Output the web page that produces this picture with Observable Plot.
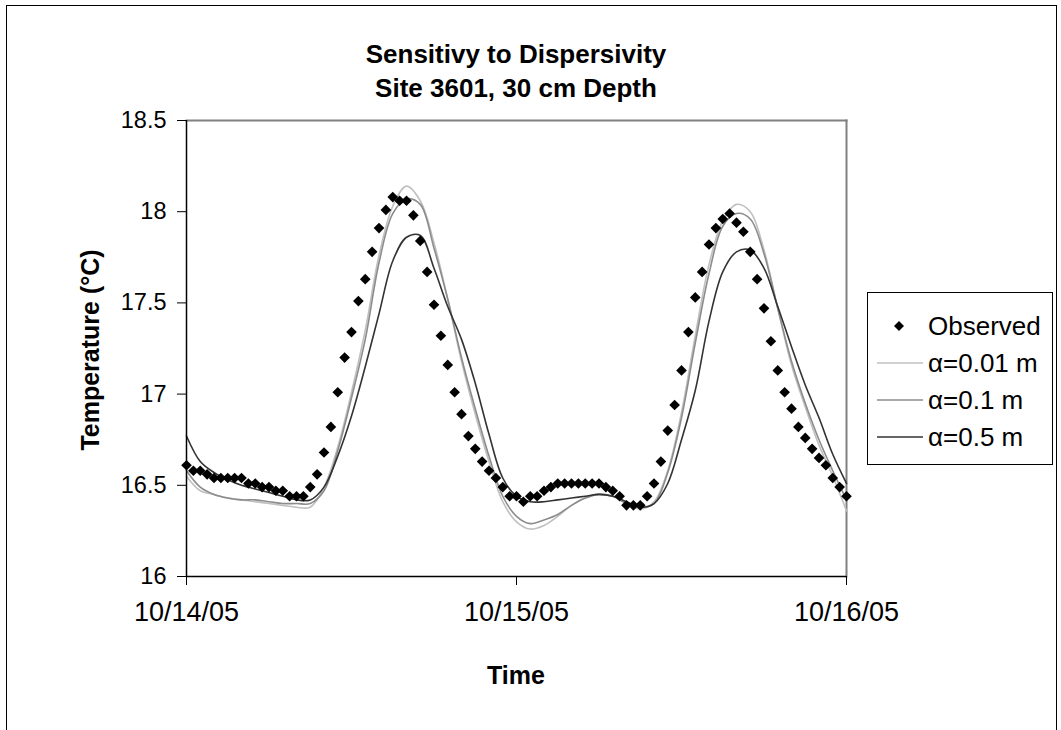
<!DOCTYPE html>
<html><head><meta charset="utf-8">
<script src="https://cdn.jsdelivr.net/npm/d3@7"></script>
<script src="https://cdn.jsdelivr.net/npm/@observablehq/plot@0.6"></script>
<style>
html,body{margin:0;padding:0;background:#fff;overflow:hidden;}
#wrap{position:relative;width:1061px;height:730px;font-family:"Liberation Sans",Arial,sans-serif;color:#000;}
#border{position:absolute;left:6px;top:5px;width:1051px;height:780px;border:1.5px solid #000;box-sizing:border-box;}
#title{position:absolute;left:116px;width:800px;top:37px;text-align:center;font-weight:bold;font-size:26px;line-height:34px;}
#ytitle{position:absolute;left:90px;top:350px;transform:translate(-50%,-50%) rotate(-90deg);font-weight:bold;font-size:25px;white-space:nowrap;}
#xtitle{position:absolute;left:516px;top:675px;transform:translate(-50%,-50%);font-weight:bold;font-size:25px;}
#chart{position:absolute;left:0;top:100px;}
#legend{position:absolute;left:867px;top:292px;width:186px;height:173px;border:1px solid #000;box-sizing:border-box;background:#fff;}
.entry{position:absolute;left:0;height:30px;width:185px;font-size:26px;}
.entry svg{position:absolute;left:8px;top:0;}
.entry span{position:absolute;left:60px;top:50%;transform:translateY(-50%);white-space:nowrap;}
</style>
</head><body>
<div id="wrap">
  <div id="border"></div>
  <div id="title">Sensitivy to Dispersivity<br>Site 3601, 30 cm Depth</div>
  <div id="chart"></div>
  <div id="ytitle">Temperature (°C)</div>
  <div id="xtitle">Time</div>
  <div id="legend"></div>
</div>
<script>
// ---- data ----
const startTime = "2005-10-14T00:00Z";
const xTickLabels = ["2005-10-14T00:00Z", "2005-10-15T00:00Z", "2005-10-16T00:00Z"];
const yTicks = [16, 16.5, 17, 17.5, 18, 18.5];
const seriesNames = ["Observed", "α=0.01 m", "α=0.1 m", "α=0.5 m"];
// observed every 30 minutes
const observed = [
16.61,16.58,16.58,16.56,16.54,16.54,16.54,16.54,16.54,16.51,16.51,16.49,16.49,16.47,16.47,16.44,16.44,16.44,16.49,16.56,
16.68,16.82,17.01,17.20,17.34,17.51,17.63,17.78,17.91,18.01,18.08,18.06,18.06,17.98,17.84,17.67,17.49,17.32,17.16,17.01,
16.89,16.77,16.70,16.63,16.58,16.54,16.49,16.44,16.44,16.41,16.44,16.44,16.47,16.49,16.51,16.51,16.51,16.51,16.51,16.51,
16.51,16.49,16.47,16.44,16.39,16.39,16.39,16.44,16.51,16.63,16.80,16.94,17.13,17.34,17.53,17.67,17.82,17.91,17.96,17.99,
17.94,17.89,17.78,17.63,17.47,17.29,17.13,17.01,16.92,16.82,16.76,16.70,16.65,16.61,16.54,16.49,16.44];
// simulated, hourly
const alpha001 = [
16.55,16.47,16.45,16.43,16.42,16.41,16.40,16.39,16.38,16.38,16.49,16.71,17.01,17.35,17.76,18.03,18.14,18.06,17.83,17.52,
17.18,16.89,16.63,16.41,16.30,16.26,16.28,16.33,16.39,16.43,16.45,16.44,16.40,16.37,16.41,16.58,16.90,17.32,17.71,17.95,
18.04,18.00,17.79,17.47,17.16,16.93,16.72,16.55,16.36];
const alpha01 = [
16.58,16.49,16.45,16.43,16.42,16.42,16.41,16.40,16.40,16.40,16.47,16.69,16.98,17.30,17.72,17.99,18.07,18.04,17.80,17.52,
17.20,16.92,16.66,16.44,16.33,16.29,16.31,16.34,16.39,16.43,16.45,16.44,16.40,16.38,16.40,16.57,16.87,17.28,17.66,17.92,
17.99,17.96,17.77,17.47,17.18,16.95,16.75,16.58,16.42];
const alpha05 = [
16.77,16.63,16.57,16.53,16.50,16.48,16.46,16.44,16.42,16.42,16.49,16.66,16.88,17.15,17.44,17.73,17.86,17.87,17.69,17.48,
17.30,17.06,16.78,16.54,16.44,16.41,16.41,16.42,16.43,16.44,16.45,16.44,16.41,16.38,16.40,16.51,16.75,17.02,17.40,17.67,
17.78,17.79,17.69,17.48,17.26,17.05,16.87,16.67,16.51];
const colors = {"α=0.01 m": "#c0c0c0", "α=0.1 m": "#8c8c8c", "α=0.5 m": "#333333"};

// ---- build tables ----
const t0 = new Date(startTime);
const obsData = observed.map((v, i) => ({t: d3.utcMinute.offset(t0, 30 * i), v}));
const simData = [];
[[seriesNames[1], alpha001], [seriesNames[2], alpha01], [seriesNames[3], alpha05]].forEach(([name, arr]) => {
  arr.forEach((v, i) => simData.push({t: d3.utcHour.offset(t0, i), v, name}));
});
const xDomain = [new Date(xTickLabels[0]), new Date(xTickLabels[2])];

const chart = Plot.plot({
  width: 1061,
  height: 600,
  marginTop: 20,
  marginLeft: 186,
  marginRight: 215,
  marginBottom: 124,
  style: {fontFamily: '"Liberation Sans", Arial, sans-serif', background: "transparent", color: "#000"},
  x: {type: "utc", domain: xDomain},
  y: {domain: [16, 18.5]},
  marks: [
    Plot.frame({anchor: "top", stroke: "#808080", strokeWidth: 2}),
    Plot.frame({anchor: "right", stroke: "#808080", strokeWidth: 2}),
    Plot.line(simData, {x: "t", y: "v", z: "name", stroke: d => colors[d.name], strokeWidth: 1.6, curve: "catmull-rom"}),
    Plot.dot(obsData, {x: "t", y: "v", symbol: "diamond2", r: 4.8, fill: "#000", stroke: "none"}),
    Plot.ruleY([16], {stroke: "#000", strokeWidth: 1.5}),
    Plot.ruleX([xDomain[0]], {stroke: "#000", strokeWidth: 1.5}),
    Plot.axisX({ticks: xTickLabels.map(d => new Date(d)), tickFormat: d3.utcFormat("%m/%d/%y"), tickSize: 9, tickPadding: 16, fontSize: 27, label: null, stroke: "#000"}),
    Plot.axisY({ticks: yTicks, tickFormat: d => String(d), tickSize: 9, tickPadding: 11, fontSize: 23.5, label: null, stroke: "#000"})
  ]
});
document.getElementById("chart").appendChild(chart);

// ---- legend ----
const legend = document.getElementById("legend");
const entryCenters = [33, 70, 107, 144];
seriesNames.forEach((name, i) => {
  const e = document.createElement("div");
  e.className = "entry";
  e.style.top = (entryCenters[i] - 15) + "px";
  let sw;
  if (i === 0) {
    sw = `<svg width="48" height="30"><path d="M23,10 L28,15 L23,20 L18,15 Z" fill="#000"/></svg>`;
  } else {
    sw = `<svg width="48" height="30"><line x1="1" x2="47" y1="15" y2="15" stroke="${colors[name]}" stroke-width="1.6"/></svg>`;
  }
  e.innerHTML = sw + `<span>${name}</span>`;
  legend.appendChild(e);
});
</script>
</body></html>
